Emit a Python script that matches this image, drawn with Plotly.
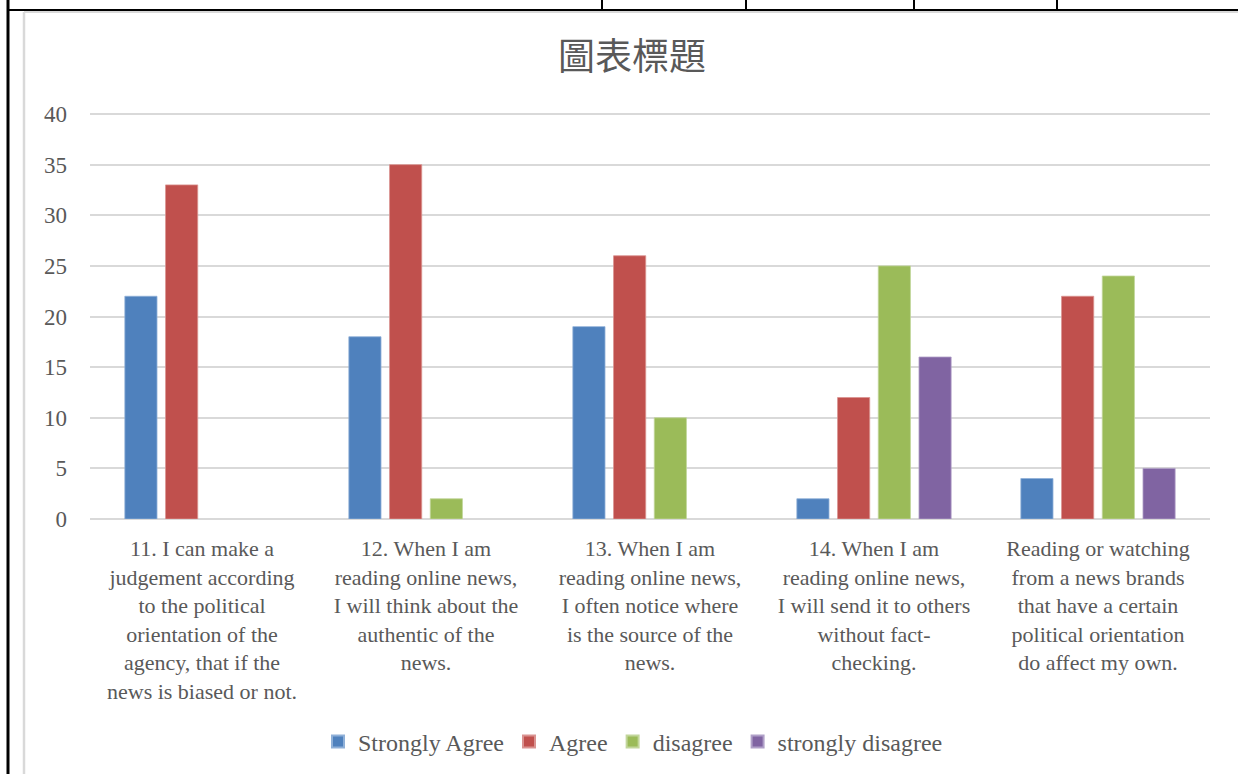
import plotly.graph_objects as go

categories = [
    "11. I can make a<br>judgement according<br>to the political<br>orientation of the<br>agency, that if the<br>news is biased or not.",
    "12. When I am<br>reading online news,<br>I will think about the<br>authentic of the<br>news.",
    "13. When I am<br>reading online news,<br>I often notice where<br>is the source of the<br>news.",
    "14. When I am<br>reading online news,<br>I will send it to others<br>without fact-<br>checking.",
    "Reading or watching<br>from a news brands<br>that have a certain<br>political orientation<br>do affect my own.",
]
strongly_agree = [22, 18, 19, 2, 4]
agree = [33, 35, 26, 12, 22]
disagree = [None, 2, 10, 25, 24]
strongly_disagree = [None, None, None, 16, 5]

series_names = ["Strongly Agree", "Agree", "disagree", "strongly disagree"]
series_values = [strongly_agree, agree, disagree, strongly_disagree]
colors = ["#4F81BD", "#C0504D", "#9BBB59", "#8064A2"]
line_colors = ["#8FB0D8", "#DA9391", "#C2D69B", "#B0A0C8"]

y_ticks = [0, 5, 10, 15, 20, 25, 30, 35, 40]

W, H = 1238, 774
L, R, T, B = 90, 28, 113, 255
pw, ph = W - L - R, H - T - B

def px(x):
    return (x - L) / pw

def py(y):
    return (H - B - y) / ph

fig = go.Figure()
for name, vals, c, lc in zip(series_names, series_values, colors, line_colors):
    fig.add_trace(go.Bar(
        name=name, x=categories, y=vals,
        marker=dict(color=c, line=dict(color=lc, width=0.8)),
    ))

serif = "Liberation Serif, DejaVu Serif, serif"
gray = "#595959"

fig.update_layout(
    width=W, height=H,
    margin=dict(l=L, r=R, t=T, b=B, autoexpand=False),
    paper_bgcolor="white", plot_bgcolor="white",
    barmode="group", bargap=0.273, bargroupgap=0.21,
    title=dict(text="圖表標題", x=632 / W, xanchor="center", y=1 - 57 / H, yanchor="middle",
               font=dict(family="Noto Sans CJK TC", size=37, color=gray)),
    font=dict(family=serif, size=22, color=gray),
    xaxis=dict(showline=False, ticks="", tickfont=dict(family=serif, size=22, color=gray),
               tickangle=0, automargin=False, ticklabelstandoff=14),
    yaxis=dict(range=[0, 40.1], tickvals=y_ticks, showgrid=True, gridcolor="#D9D9D9", gridwidth=1.6,
               zeroline=True, zerolinecolor="#D9D9D9", zerolinewidth=1.6,
               tickfont=dict(family=serif, size=23, color=gray), ticks="", ticklen=0,
               automargin=False, ticklabelstandoff=22),
    showlegend=True,
    legend=dict(orientation="h", x=px(633), xanchor="center", y=py(742), yanchor="middle",
                font=dict(family=serif, size=24, color=gray),
                itemwidth=30, traceorder="normal", itemsizing="constant"),
)

shapes = [
    # light gray chart border
    dict(type="line", x0=px(24), x1=px(1240), y0=py(12), y1=py(12), line=dict(color="#D9D9D9", width=2)),
    dict(type="line", x0=px(24), x1=px(24), y0=py(12), y1=py(776), line=dict(color="#D9D9D9", width=2.5)),
    # black table lines
    dict(type="line", x0=px(8), x1=px(1240), y0=py(10), y1=py(10), line=dict(color="black", width=2)),
    dict(type="line", x0=px(8), x1=px(8), y0=py(-2), y1=py(776), line=dict(color="black", width=3)),
]
for xv in [602, 746, 914, 1057]:
    shapes.append(dict(type="line", x0=px(xv), x1=px(xv), y0=py(-2), y1=py(10), line=dict(color="black", width=2)))
for s in shapes:
    s.update(xref="paper", yref="paper", layer="above")
fig.update_layout(shapes=shapes)

fig.write_html("out.html", config={"displayModeBar": False},
               post_script="document.body.style.margin='0';document.body.style.overflow='hidden';")
